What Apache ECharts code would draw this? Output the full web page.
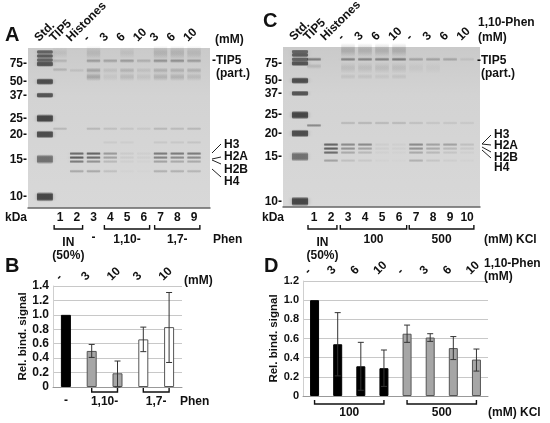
<!DOCTYPE html>
<html>
<head>
<meta charset="utf-8">
<script src="https://cdn.jsdelivr.net/npm/echarts@6/dist/echarts.min.js"></script>
<style>html,body{margin:0;padding:0;background:#fff}#main{width:550px;height:423px}</style>
</head>
<body>
<div id="main"></div>
<script>
// ---------- data ----------
// gel A: binding with phenanthroline isomers
const gelALanes = ['Std.', 'TIP5', 'Histones', '-', '3', '6', '10', '3', '6', '10'];
const gelALanePos = [0.1, 1, 2, 3, 4, 5, 6, 7, 8, 9];
const gelANumbers = ['1', '2', '3', '4', '5', '6', '7', '8', '9'];
// gel C: binding at 100 / 500 mM KCl
const gelCLanes = ['Std.', 'TIP5', 'Histones', '-', '3', '6', '10', '-', '3', '6', '10'];
const gelCLanePos = [0.18, 1, 2, 3, 4, 5, 6, 7, 8, 9, 10];
const gelCNumbers = ['1', '2', '3', '4', '5', '6', '7', '8', '9', '10'];

// marker (kDa) and where it ran (% of gel length)
const stdKDa = [250, 150, 100, 75, 50, 37, 25, 20, 15, 10];
const stdLabelled = [75, 50, 37, 25, 20, 15, 10];
const stdInt = [0.75, 0.8, 0.75, 0.85, 0.9, 0.85, 0.95, 0.9, 0.65, 0.95];
const stdSpread = [1.6, 1.6, 1.6, 2, 2.4, 2, 3, 2.8, 3.4, 3.4];
const gelAStdMig = [2.5, 5, 7.5, 10, 21, 29.5, 44, 54, 69.5, 93];
const gelCStdMig = [3, 5, 7.7, 10.2, 21, 29, 42.5, 54, 68.5, 96.5];

// other bands: [lane, migration %, intensity, spread %]
const gelABands = [
  [1, 3, 0.1, 4], [3, 3, 0.15, 5], [5, 3, 0.1, 4], [7, 3, 0.18, 5], [8, 3, 0.18, 5], [9, 3, 0.15, 5],
  [1, 8, 0.18, 1.5], [3, 8, 0.35, 1.5], [4, 8, 0.3, 1.5], [5, 8, 0.35, 1.5], [6, 8, 0.22, 1.5], [7, 8, 0.4, 1.5], [8, 8, 0.42, 1.5], [9, 8, 0.35, 1.5],
  [1, 13.5, 0.2, 1.5], [2, 14, 0.12, 1.5], [3, 14, 0.3, 2], [4, 14, 0.12, 2], [5, 14, 0.2, 2], [6, 14, 0.12, 2], [7, 14, 0.22, 2], [8, 14, 0.22, 2], [9, 14, 0.22, 2],
  [3, 18, 0.28, 3], [4, 18, 0.08, 3], [5, 18, 0.15, 3], [6, 18, 0.1, 3], [7, 18, 0.2, 3], [8, 18, 0.2, 3], [9, 18, 0.15, 3],
  [1, 50.5, 0.2, 1.2], [3, 50.5, 0.2, 1.2], [4, 50.5, 0.15, 1.2], [5, 50.5, 0.12, 1.2], [6, 50.5, 0.1, 1.2], [7, 50.5, 0.2, 1.2], [8, 50.5, 0.18, 1.2], [9, 50.5, 0.2, 1.2],
  [4, 59, 0.08, 1.2], [5, 59, 0.06, 1.2], [7, 59, 0.1, 1.2], [8, 59, 0.1, 1.2], [9, 59, 0.12, 1.2]
];
const gelCBands = [
  [3, 2, 0.22, 5], [4, 2, 0.2, 5], [5, 2, 0.2, 5], [6, 2, 0.22, 5],
  [1, 7.7, 0.55, 1.5], [3, 7.7, 0.5, 1.5], [4, 7.7, 0.5, 1.5], [5, 7.7, 0.5, 1.5], [6, 7.7, 0.55, 1.5], [7, 7.7, 0.3, 1.5], [8, 7.7, 0.3, 1.5], [9, 7.7, 0.28, 1.5], [10, 7.7, 0.1, 1.5],
  [1, 12, 0.15, 2], [3, 13, 0.12, 4], [4, 13, 0.12, 4], [5, 13, 0.12, 4], [6, 13, 0.12, 4], [7, 13, 0.06, 4], [8, 13, 0.05, 4],
  [3, 18.5, 0.1, 2], [4, 18.5, 0.1, 2], [5, 18.5, 0.08, 2], [6, 18.5, 0.1, 2],
  [1, 49, 0.5, 1.3], [3, 47.5, 0.2, 1.2], [4, 47.5, 0.22, 1.2], [5, 47.5, 0.2, 1.2], [6, 47.5, 0.2, 1.2], [7, 47.5, 0.15, 1.2], [8, 47.5, 0.12, 1.2], [9, 47.5, 0.12, 1.2], [10, 47.5, 0.1, 1.2]
];
// histones H3, H2A, H2B, H4: [lane, int H3, int H2A, int H2B, int H4]
const gelAHistMig = [66, 68.5, 71, 77];
const gelAHist = [[2, 0.7, 0.8, 0.6, 0.3], [3, 0.75, 0.7, 0.45, 0.3], [4, 0.4, 0.35, 0.2, 0.15], [5, 0.08, 0.08, 0.05, 0.03],
  [6, 0.05, 0.05, 0.03, 0.02], [7, 0.6, 0.55, 0.35, 0.25], [8, 0.6, 0.5, 0.3, 0.25], [9, 0.6, 0.5, 0.3, 0.22]];
const gelCHistMig = [61, 63.5, 66, 71];
const gelCHist = [[2, 0.75, 0.8, 0.7, 0.35], [3, 0.5, 0.45, 0.3, 0.15], [4, 0.5, 0.35, 0.2, 0.1], [5, 0.06, 0.06, 0.04, 0.03],
  [6, 0.05, 0.05, 0.03, 0.02], [7, 0.5, 0.45, 0.3, 0.25], [8, 0.35, 0.3, 0.2, 0.12], [9, 0.35, 0.2, 0.12, 0.06], [10, 0.15, 0.1, 0.05, 0.03]];
const histNames = ['H3', 'H2A', 'H2B', 'H4'];

// B: relative binding signal
const bDose = ['-', '3', '10', '3', '10'];
const bGroup = ['-', '1,10-', '1,10-', '1,7-', '1,7-'];
const bValues = [1.0, 0.50, 0.19, 0.66, 0.83];
const bErrLow = [1.0, 0.41, 0.0, 0.49, 0.34];
const bErrHigh = [1.0, 0.59, 0.36, 0.83, 1.31];
// D: relative binding signal
const dDose = ['-', '3', '6', '10', '-', '3', '6', '10'];
const dGroup = ['100', '100', '100', '100', '500', '500', '500', '500'];
const dValues = [1.0, 0.54, 0.31, 0.29, 0.65, 0.61, 0.50, 0.38];
const dErrLow = [1.0, 0.21, 0.06, 0.10, 0.56, 0.57, 0.38, 0.26];
const dErrHigh = [1.0, 0.87, 0.56, 0.48, 0.74, 0.65, 0.62, 0.49];

// ---------- helpers ----------
const FONT = '"Liberation Sans", Arial, sans-serif';
const STAIN = 0.8; // how dark a band of intensity 1 looks on the photo
const chart = echarts.init(document.getElementById('main'));

function txt(text, x, y, o) {
  o = o || {};
  return {
    type: 'text', x: x, y: y, rotation: o.rot || 0, z: 20,
    style: { text: text, fill: '#111', fontFamily: FONT, fontWeight: 'bold', fontSize: o.size || 12,
      align: o.align || 'left', verticalAlign: o.va || 'middle' }
  };
}
function expandHist(hist, migs) {
  const out = [];
  hist.forEach(function (h) {
    for (let k = 0; k < 4; k++) out.push([h[0], migs[k], h[k + 1], 1.3]);
  });
  return out;
}
// soft band: vertical gradient fading to the gel colour at both edges
function bandSeries(ax, data, w, r, core) {
  return {
    type: 'custom', xAxisIndex: ax, yAxisIndex: ax, silent: true, data: data,
    renderItem: function (params, api) {
      const c = api.coord([api.value(0), api.value(1)]);
      const bw = api.size([w, 0])[0];
      const h = Math.max(2, api.size([0, api.value(3)])[1]) * 1.8;
      const a = api.value(2) * STAIN;
      const col = 'rgba(40,40,40,';
      const fill = new echarts.graphic.LinearGradient(0, 0, 0, 1, [
        { offset: 0, color: col + '0)' }, { offset: 0.5 - core, color: col + a + ')' },
        { offset: 0.5 + core, color: col + a + ')' }, { offset: 1, color: col + '0)' }]);
      return { type: 'rect', shape: { x: c[0] - bw / 2, y: c[1] - h / 2, width: bw, height: h, r: r },
        style: { fill: fill, shadowBlur: 4, shadowColor: col + (a * 0.5) + ')' } };
    }
  };
}
function labelSeries(ax, xs, ys, texts, o) {
  return {
    type: 'custom', xAxisIndex: ax, yAxisIndex: ax, silent: true, z: 10,
    data: xs.map(function (x, i) { return [x, Array.isArray(ys) ? ys[i] : ys]; }),
    renderItem: function (params, api) {
      const c = api.coord([api.value(0), api.value(1)]);
      return txt(texts[params.dataIndex], c[0] + (o.dx || 0), c[1] + (o.dy || 0), o);
    }
  };
}
function errSeries(ax, low, high) {
  return {
    type: 'custom', xAxisIndex: ax, yAxisIndex: ax, silent: true, z: 5,
    data: low.map(function (l, i) { return [i, l, high[i]]; }),
    renderItem: function (params, api) {
      if (api.value(1) === api.value(2)) return null;
      const p1 = api.coord([api.value(0), api.value(1)]);
      const p2 = api.coord([api.value(0), api.value(2)]);
      const st = { stroke: '#333', lineWidth: 1 };
      return { type: 'group', children: [
        { type: 'line', shape: { x1: p1[0], y1: p1[1], x2: p2[0], y2: p2[1] }, style: st },
        { type: 'line', shape: { x1: p1[0] - 3, y1: p1[1], x2: p1[0] + 3, y2: p1[1] }, style: st },
        { type: 'line', shape: { x1: p2[0] - 3, y1: p2[1], x2: p2[0] + 3, y2: p2[1] }, style: st }
      ] };
    }
  };
}
function gelX(gi, min, max) {
  return { gridIndex: gi, type: 'value', min: min, max: max, axisLabel: { show: false }, axisTick: { show: false },
    splitLine: { show: false }, axisLine: { show: true, onZero: false, lineStyle: { color: '#666', width: 1.5 } } };
}
function gelY(gi) {
  return { gridIndex: gi, type: 'value', min: 0, max: 100, inverse: true, show: false };
}
function barY(gi, max, size) {
  return {
    gridIndex: gi, type: 'value', min: 0, max: max, interval: 0.2,
    axisLine: { show: true, lineStyle: { color: '#cfcfcf' } }, axisTick: { show: false },
    splitLine: { lineStyle: { color: '#c8c8c8' } },
    axisLabel: { color: '#111', fontFamily: FONT, fontWeight: 'bold', fontSize: size, margin: 4,
      formatter: function (v) { return v === 0 ? '0' : v.toFixed(1); } },
    name: 'Rel. bind. signal', nameLocation: 'middle', nameGap: 20,
    nameTextStyle: { color: '#111', fontFamily: FONT, fontWeight: 'bold', fontSize: 11.5 }
  };
}
function barX(gi, cats) {
  return { gridIndex: gi, type: 'category', data: cats, axisTick: { show: false }, axisLabel: { show: false },
    axisLine: { lineStyle: { color: '#999' } } };
}
const gelBg = new echarts.graphic.LinearGradient(0, 0, 0, 1, [
  { offset: 0, color: '#cacaca' }, { offset: 0.3, color: '#d3d3d3' }, { offset: 1, color: '#d8d8d8' }]);
const fills = { '-': '#000000', '1,10-': '#a6a6a6', '1,7-': '#ffffff', '100': '#000000', '500': '#a6a6a6' };

const labelMig = function (migs) {
  return stdLabelled.map(function (k) { return migs[stdKDa.indexOf(k)]; });
};
const stdData = function (pos, migs) {
  return migs.map(function (m, i) { return [pos, m, stdInt[i], stdSpread[i]]; });
};
const A_MIN = -0.91, A_MAX = 9.955, C_MIN = -0.82, C_MAX = 10.76;

const option = {
  animation: false,
  grid: [
    { left: 28, top: 48, width: 182, height: 160, show: true, backgroundColor: gelBg, borderWidth: 0 },
    { left: 283, top: 47, width: 197, height: 160, show: true, backgroundColor: gelBg, borderWidth: 0 },
    { left: 53, top: 286, width: 129, height: 101 },
    { left: 303, top: 281, width: 185, height: 115 }
  ],
  xAxis: [gelX(0, A_MIN, A_MAX), gelX(1, C_MIN, C_MAX), barX(2, bDose), barX(3, dDose)],
  yAxis: [gelY(0), gelY(1), barY(2, 1.4, 12), barY(3, 1.2, 11)],
  series: [
    bandSeries(0, stdData(gelALanePos[0], gelAStdMig), 0.95, 2, 0.25),
    bandSeries(0, gelABands.concat(expandHist(gelAHist, gelAHistMig)), 0.8, 1, 0.08),
    labelSeries(0, stdLabelled.map(function () { return A_MIN; }), labelMig(gelAStdMig),
      stdLabelled.map(function (k) { return k + '-'; }), { align: 'right', dx: -1 }),
    labelSeries(0, gelALanePos, 0, gelALanes, { rot: Math.PI / 4, dx: -4, dy: -4, va: 'bottom' }),
    labelSeries(0, gelALanePos.slice(1), 100, gelANumbers, { align: 'center', dy: 10 }),

    bandSeries(1, stdData(gelCLanePos[0], gelCStdMig), 0.95, 2, 0.25),
    bandSeries(1, gelCBands.concat(expandHist(gelCHist, gelCHistMig)), 0.8, 1, 0.08),
    labelSeries(1, stdLabelled.map(function () { return C_MIN; }), labelMig(gelCStdMig),
      stdLabelled.map(function (k) { return k + '-'; }), { align: 'right', dx: -1 }),
    labelSeries(1, gelCLanePos, 0, gelCLanes, { rot: Math.PI / 4, dx: -4, dy: -4, va: 'bottom' }),
    labelSeries(1, gelCLanePos.slice(1), 100, gelCNumbers, { align: 'center', dy: 11 }),

    { type: 'bar', xAxisIndex: 2, yAxisIndex: 2, barWidth: 10,
      data: bValues.map(function (v, i) {
        return { value: v, itemStyle: { color: fills[bGroup[i]], borderColor: i === 0 ? '#000' : '#555', borderWidth: 1 } };
      }) },
    errSeries(2, bErrLow, bErrHigh),
    labelSeries(2, bDose.map(function (d, i) { return i; }), 1.4, bDose, { rot: Math.PI / 4, dx: -4, dy: -3, va: 'bottom' }),

    { type: 'bar', xAxisIndex: 3, yAxisIndex: 3, barWidth: 9,
      data: dValues.map(function (v, i) {
        return { value: v, itemStyle: { color: fills[dGroup[i]], borderColor: dGroup[i] === '100' ? '#000' : '#555', borderWidth: 1 } };
      }) },
    errSeries(3, dErrLow, dErrHigh),
    labelSeries(3, dDose.map(function (d, i) { return i; }), 1.2, dDose, { rot: Math.PI / 4, dx: -4, dy: -4, va: 'bottom' })
  ]
};
chart.setOption(option);

// ---------- annotations ----------
const px = function (ax, v) { return chart.convertToPixel({ xAxisIndex: ax }, v); };
function bracket(ax, a, b, pad, y) {
  const x1 = px(ax, a - pad), x2 = px(ax, b + pad);
  return { type: 'polyline', z: 20, shape: { points: [[x1, y - 4], [x1, y], [x2, y], [x2, y - 4]] },
    style: { stroke: '#111', lineWidth: 1.4, fill: null } };
}
function mid(ax, a, b) { return (px(ax, a) + px(ax, b)) / 2; }
function seg(x1, y1, x2, y2) {
  return { type: 'line', z: 20, shape: { x1: x1, y1: y1, x2: x2, y2: y2 }, style: { stroke: '#222', lineWidth: 1 } };
}

const g = [
  txt('A', 5, 35, { size: 20 }), txt('C', 263, 21, { size: 20 }),
  txt('B', 5, 266, { size: 20 }), txt('D', 264, 266, { size: 20 }),
  // gel A
  txt('(mM)', 215, 40), txt('-TIP5', 212, 61), txt('(part.)', 216, 74),
  txt('kDa', 5, 218),
  bracket(0, 1, 2, 0.35, 229), txt('IN', mid(0, 1, 2), 243, { align: 'center' }), txt('(50%)', mid(0, 1, 2), 256, { align: 'center' }),
  txt('-', px(0, 3), 238, { align: 'center' }),
  bracket(0, 4, 6, 0.35, 229), txt('1,10-', mid(0, 4, 6), 240, { align: 'center' }),
  bracket(0, 7, 9, 0.35, 229), txt('1,7-', mid(0, 7, 9), 240, { align: 'center' }),
  txt('Phen', 213, 240),
  // gel C
  txt('1,10-Phen', 478, 23), txt('(mM)', 478, 38), txt('-TIP5', 477, 61), txt('(part.)', 481, 74),
  txt('kDa', 262, 218),
  bracket(1, 1, 2, 0.35, 229), txt('IN', mid(1, 1, 2), 243, { align: 'center' }), txt('(50%)', mid(1, 1, 2), 256, { align: 'center' }),
  bracket(1, 3, 6, 0.45, 229), txt('100', mid(1, 3, 6), 240, { align: 'center' }),
  bracket(1, 7, 10, 0.4, 229), txt('500', mid(1, 7, 10), 240, { align: 'center' }),
  txt('(mM) KCl', 484, 240),
  // chart B
  txt('(mM)', 184, 281),
  txt('-', px(2, 0), 401, { align: 'center' }),
  bracket(2, 1, 2, 0.22, 392), txt('1,10-', mid(2, 1, 2), 402, { align: 'center' }),
  bracket(2, 3, 4, 0.22, 392), txt('1,7-', mid(2, 3, 4), 402, { align: 'center' }),
  txt('Phen', 180, 402),
  // chart D
  txt('1,10-Phen', 484, 264), txt('(mM)', 484, 277),
  bracket(3, 0, 3, 0.25, 404), txt('100', mid(3, 0, 3), 413, { align: 'center' }),
  bracket(3, 4, 7, 0.25, 404), txt('500', mid(3, 4, 7), 413, { align: 'center' }),
  txt('(mM) KCl', 488, 413)
];
// histone labels and pointer lines
const histAY = [145, 157, 170, 182], histALine = [[153, 144], [159, 157], [160, 164], [169, 177]];
const histCY = [135, 146, 158, 168], histCLine = [[144, 135], [144, 145], [147, 152], [150, 158]];
histNames.forEach(function (n, k) {
  g.push(txt(n, 224, histAY[k]), seg(212, histALine[k][0], 221, histALine[k][1]));
  g.push(txt(n, 494, histCY[k]), seg(482, histCLine[k][0], 491, histCLine[k][1]));
});
chart.setOption({ graphic: g });
</script>
</body>
</html>
